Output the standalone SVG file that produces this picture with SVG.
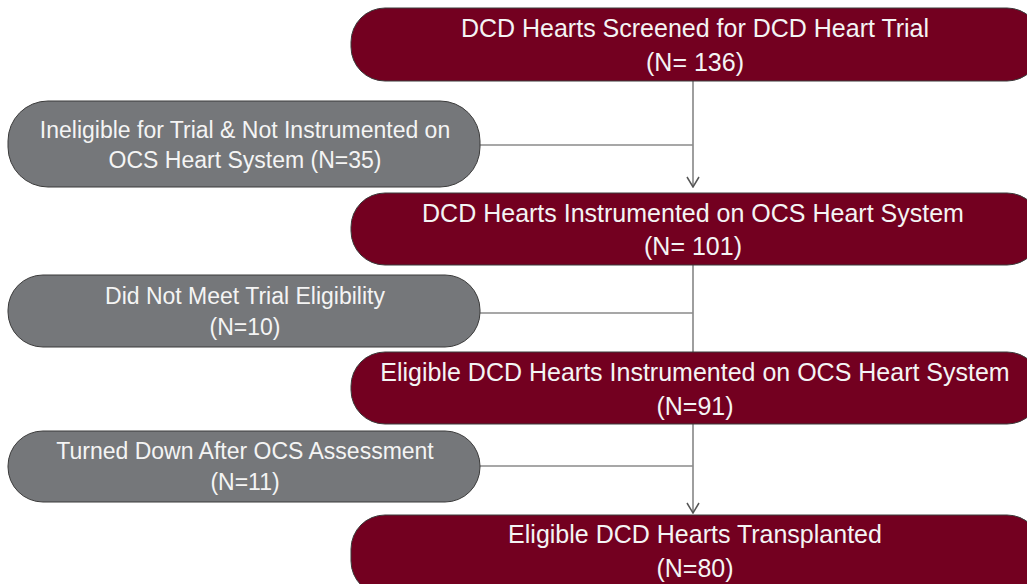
<svg xmlns="http://www.w3.org/2000/svg" width="1027" height="584" viewBox="0 0 1027 584">
  <style>
    .main { fill: #730020; stroke: #3b3b3b; stroke-width: 1; }
    .side { fill: #75777a; stroke: #3b3b3b; stroke-width: 1; }
    .t { font-family: "Liberation Sans", Arial, sans-serif; fill: #f4f4f4; text-anchor: middle; }
    .tm { font-size: 25px; }
    .ts { font-size: 23px; }
    .link { stroke: #6a6a6a; stroke-width: 1.3; fill: none; }
    .branch { stroke: #8a8a8a; stroke-width: 1.3; fill: none; }
  </style>
  <defs>
    <marker id="arrow" viewBox="0 0 12 14" refX="11" refY="7" markerWidth="12" markerHeight="14" markerUnits="userSpaceOnUse" orient="auto">
      <path d="M1 1 L11 7 L1 13" fill="none" stroke="#555" stroke-width="1.5"/>
    </marker>
  </defs>
  <rect width="1027" height="584" fill="#ffffff"/>

  <g id="connectors">
    <line class="link" x1="693" y1="81" x2="693" y2="187" marker-end="url(#arrow)"/>
    <line class="branch" x1="480" y1="145" x2="693" y2="145"/>
    <line class="link" x1="693" y1="265" x2="693" y2="352"/>
    <line class="branch" x1="480" y1="313" x2="693" y2="313"/>
    <line class="link" x1="693" y1="424" x2="693" y2="513" marker-end="url(#arrow)"/>
    <line class="branch" x1="480" y1="466" x2="693" y2="466"/>
  </g>

  <g id="screened">
    <rect class="main" x="351" y="8" width="690" height="73" rx="34"/>
    <text class="t tm" x="695" y="37">DCD Hearts Screened for DCD Heart Trial</text>
    <text class="t tm" x="695" y="71">(N= 136)</text>
  </g>

  <g id="ineligible">
    <rect class="side" x="8" y="101" width="472" height="86" rx="40"/>
    <text class="t ts" x="245" y="138">Ineligible for Trial &amp; Not Instrumented on</text>
    <text class="t ts" x="245" y="168">OCS Heart System (N=35)</text>
  </g>

  <g id="instrumented">
    <rect class="main" x="351" y="193" width="690" height="72" rx="34"/>
    <text class="t tm" x="693" y="222">DCD Hearts Instrumented on OCS Heart System</text>
    <text class="t tm" x="693" y="255">(N= 101)</text>
  </g>

  <g id="not-eligible">
    <rect class="side" x="8" y="275" width="472" height="72" rx="35"/>
    <text class="t ts" x="245" y="304">Did Not Meet Trial Eligibility</text>
    <text class="t ts" x="245" y="335">(N=10)</text>
  </g>

  <g id="eligible-instrumented">
    <rect class="main" x="351" y="352" width="690" height="72" rx="34"/>
    <text class="t tm" x="695" y="381">Eligible DCD Hearts Instrumented on OCS Heart System</text>
    <text class="t tm" x="695" y="415">(N=91)</text>
  </g>

  <g id="turned-down">
    <rect class="side" x="8" y="431" width="472" height="71" rx="35"/>
    <text class="t ts" x="245" y="459">Turned Down After OCS Assessment</text>
    <text class="t ts" x="245" y="490">(N=11)</text>
  </g>

  <g id="transplanted">
    <rect class="main" x="351" y="515" width="690" height="80" rx="34"/>
    <text class="t tm" x="695" y="543">Eligible DCD Hearts Transplanted</text>
    <text class="t tm" x="695" y="577">(N=80)</text>
  </g>
</svg>
